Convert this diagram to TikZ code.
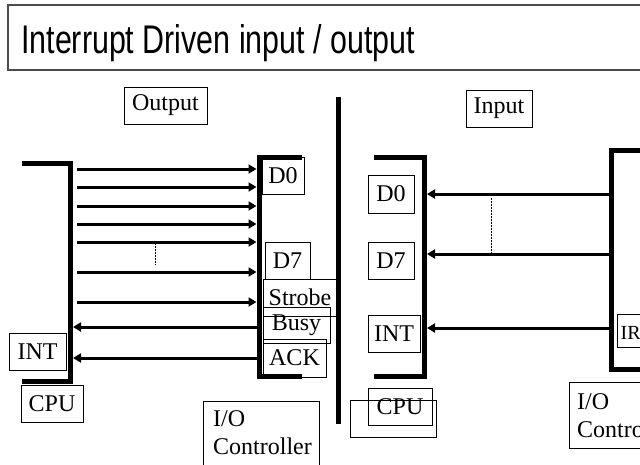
\documentclass[tikz,border=0pt]{standalone}
\usepackage{fontspec}
\setmainfont{Liberation Serif}
\newfontfamily\titlefont{Liberation Sans}
\usetikzlibrary{arrows.meta}
\tikzset{
  lbox/.style={draw=black, line width=0.8pt, inner sep=0pt, font=\fontsize{24}{28}\selectfont},
  lbl/.style={inner sep=0pt, font=\fontsize{24}{28}\selectfont},
  bus/.style={line width=5pt, line join=miter},
  sig/.style={line width=3pt, -{Triangle[length=8pt,width=9pt]}},
  dots/.style={line width=0.7pt, dash pattern=on 1.5pt off 1.5pt},
}
\newcommand\labelbox[6]{\node[lbox, minimum width={#4-#2}, minimum height={#5-#3}] (#1) at ({(#2+#4)/2},{(#3+#5)/2}) {#6};}
\begin{document}
\begin{tikzpicture}[x=1pt,y=-1pt]
\useasboundingbox (0,0) rectangle (640,464);
\fill[white] (0,0) rectangle (640,464);
% title
\node[draw=black!70, line width=1.2pt, minimum width=642pt, minimum height=65pt, inner sep=0pt] (titlebox) at (329,37.5) {};
\node[anchor=base west, inner sep=0pt, font=\titlefont\fontsize{40}{48}\selectfont] (title) at (21,53) {\scalebox{0.76}[1]{Interrupt Driven input / output}};
% buses
\draw[bus] (22,163) -- (70,163) -- (70,381) -- (22,381);
\draw[bus] (302,157) -- (259,157) -- (259,376) -- (302,376);
\draw[bus] (338,97) -- (338,424);
\draw[bus] (374,157.5) -- (424.5,157.5) -- (424.5,376) -- (374,376);
\draw[bus] (645,150.5) -- (611.5,150.5) -- (611.5,369.5) -- (645,369.5);
% connector end points on buses
\foreach \n/\y in {a/169,b/187,c/206,d/224,e/242,f/272,g/302,h/327,i/358}{
  \coordinate (cpuL\n) at (73,\y);
  \coordinate (ioL\n) at (256.5,\y);
}
\foreach \n/\y in {a/194,b/254,c/328}{
  \coordinate (cpuR\n) at (427,\y);
  \coordinate (ioR\n) at (609,\y);
}
\foreach \n in {a,b,c,d,e,f,g}{ \draw[sig] ([xshift=4pt]cpuL\n) -- (ioL\n); }
\foreach \n in {h,i}{ \draw[sig] (ioL\n) -- (cpuL\n); }
\foreach \n in {a,b,c}{ \draw[sig] (ioR\n) -- (cpuR\n); }
% dotted
\coordinate (dlt) at (155,243); \coordinate (dlb) at (155,265);
\draw[dots] (dlt) -- (dlb);
\coordinate (drt) at (491,198); \coordinate (drb) at (491,253);
\draw[dots] (drt) -- (drb);
% labels left
\labelbox{outp}{124}{87}{207}{124}{Output}
\labelbox{dzl}{262}{157}{304}{194}{D0}
\labelbox{dsl}{265}{242}{310}{279}{D7}
\labelbox{strobe}{263}{279}{337}{316}{Strobe}
\labelbox{busy}{263}{307}{330}{343}{Busy}
\labelbox{ack}{263}{339}{326}{377}{ACK}
\labelbox{intl}{9}{333}{66}{370}{INT}
\labelbox{cpul}{21}{385}{83}{422}{CPU}
\node[draw=black, line width=0.8pt, minimum width=116pt, minimum height=72pt, inner sep=0pt] (iocl) at (261,437) {};
\node[lbl, anchor=base west] (iocl1) at (213,426) {I/O};
\node[lbl, anchor=base west] (iocl2) at (213,454) {Controller};
% labels right
\labelbox{inp}{466}{90}{532}{127}{Input}
\labelbox{dzr}{368}{175}{414}{213}{D0}
\labelbox{dsr}{368}{242}{414}{279}{D7}
\labelbox{intr}{368}{315}{420}{352}{INT}
\node[draw=black, line width=0.8pt, minimum width=86pt, minimum height=37pt, inner sep=0pt] (cpurb) at (393,418.5) {};
\labelbox{cpur}{368}{388}{432}{425}{CPU}
\node[draw=black, line width=0.8pt, minimum width=60pt, minimum height=33pt, inner sep=0pt] (irq) at (647,331) {};
\node[inner sep=0pt, anchor=base west, font=\fontsize{20}{24}\selectfont] (irqt) at (620.5,339) {IRQ};
\node[draw=black, line width=0.8pt, minimum width=100pt, minimum height=66pt, inner sep=0pt] (iocr) at (619,415) {};
\node[lbl, anchor=base west] (iocr1) at (577,409) {I/O};
\node[lbl, anchor=base west] (iocr2) at (577,437) {Controller};
\end{tikzpicture}
\end{document}
